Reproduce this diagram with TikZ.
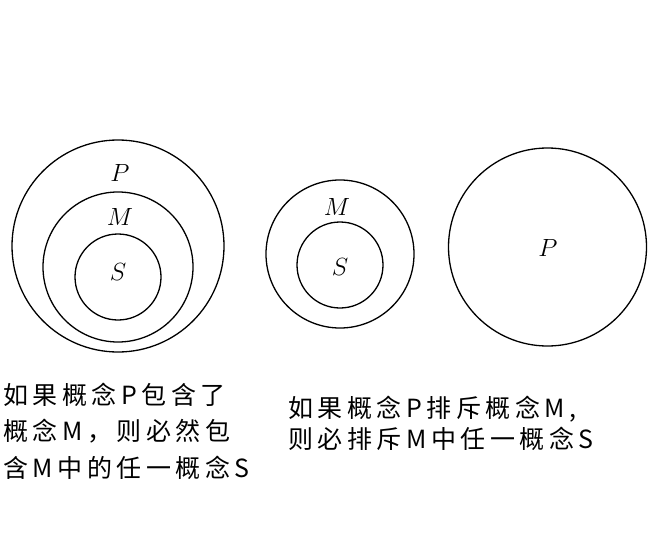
\documentclass[tikz,border=0pt]{standalone}
\usepackage{fontspec}
\newfontfamily\cjk[LetterSpace=18]{Noto Sans CJK SC}
\begin{document}
\begin{tikzpicture}[x=1pt,y=-1pt,
  ring/.style={draw=black, line width=1.3pt},
  letter/.style={font=\fontsize{26}{26}\selectfont, inner sep=0pt},
  caption/.style={font=\cjk\fontsize{25}{36.5}\selectfont, align=left, inner sep=0pt, anchor=north west}]
\useasboundingbox (0,0) rectangle (653,535);
% P contains M contains S
\draw[ring] (118,246) circle [radius=106pt];
\draw[ring] (118,267) circle [radius=75pt];
\draw[ring] (118,277) circle [radius=43pt];
\node[letter] (pa) at (120,173) {$P$};
\node[letter] (ma) at (120,217) {$M$};
\node[letter] (sa) at (118,272) {$S$};
% M contains S, P apart
\draw[ring] (340,254) circle [radius=74pt];
\draw[ring] (340,265) circle [radius=43pt];
\node[letter] (mb) at (337,207) {$M$};
\node[letter] (sb) at (340,267) {$S$};
\draw[ring] (547.5,247) circle [radius=99pt];
\node[letter] (pb) at (548,248) {$P$};
% captions
\node[caption] (capa) at (3,382.5) {如果概念P包含了\\概念M，则必然包\\含M中的任一概念S};
\node[caption, font=\cjk\fontsize{25}{31}\selectfont] (capb) at (288,395.5) {如果概念P排斥概念M,\\则必排斥M中任一概念S};
\end{tikzpicture}
\end{document}
